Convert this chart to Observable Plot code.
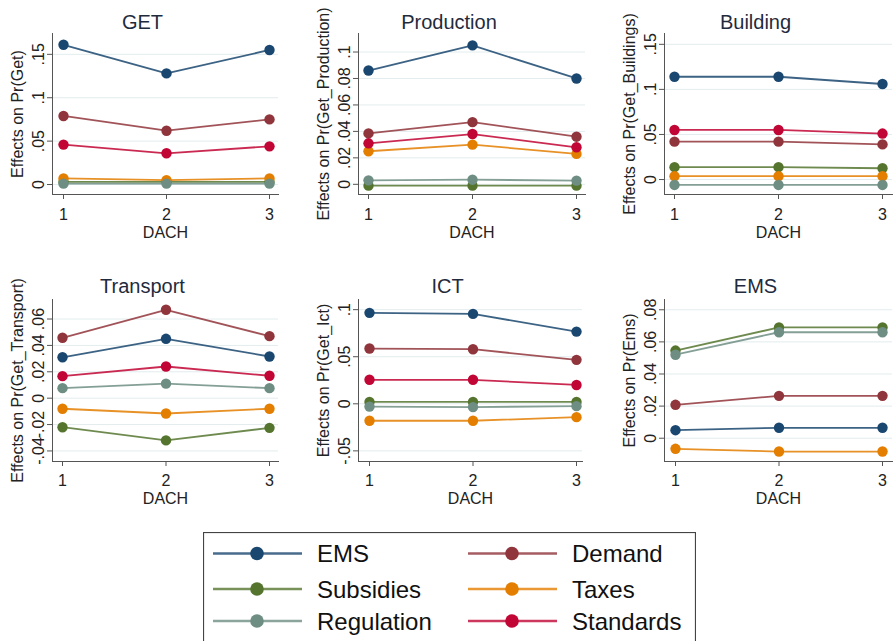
<!DOCTYPE html>
<html><head><meta charset="utf-8">
<script src="https://cdn.jsdelivr.net/npm/d3@7"></script>
<script src="https://cdn.jsdelivr.net/npm/@observablehq/plot@0.6"></script>
<style>
body{margin:0;background:#fff;}
#chart{position:relative;width:893px;height:641px;overflow:hidden;background:#fff;font-family:"Liberation Sans",Arial,sans-serif;}
.panel{position:absolute;}
#legend{position:absolute;left:203px;top:532px;}
</style></head><body><div id="chart"></div>
<script>
// ---------- data ----------
const dach = [1, 2, 3];
const seriesNames = ["EMS", "Demand", "Subsidies", "Taxes", "Regulation", "Standards"];
const panelTitles = ["GET", "Production", "Building", "Transport", "ICT", "EMS"];
const yLabels = ["Effects on Pr(Get)", "Effects on Pr(Get_Production)", "Effects on Pr(Get_Buildings)",
                 "Effects on Pr(Get_Transport)", "Effects on Pr(Get_Ict)", "Effects on Pr(Ems)"];
// rows follow seriesNames order: EMS, Demand, Subsidies, Taxes, Regulation, Standards
const getValues = [[0.161, 0.128, 0.155], [0.079, 0.062, 0.075], [0.003, 0.003, 0.003],
                   [0.007, 0.005, 0.007], [0.001, 0.001, 0.001], [0.046, 0.036, 0.044]];
const productionValues = [[0.086, 0.105, 0.080], [0.0385, 0.047, 0.036], [-0.001, -0.001, -0.001],
                          [0.025, 0.030, 0.023], [0.003, 0.0035, 0.0028], [0.031, 0.038, 0.028]];
const buildingValues = [[0.114, 0.114, 0.106], [0.042, 0.042, 0.039], [0.0137, 0.0137, 0.0125],
                        [0.0037, 0.0037, 0.0037], [-0.006, -0.006, -0.006], [0.055, 0.055, 0.051]];
const transportValues = [[0.031, 0.045, 0.0316], [0.0458, 0.067, 0.047], [-0.022, -0.032, -0.0225],
                         [-0.008, -0.0116, -0.008], [0.0076, 0.011, 0.0076], [0.0167, 0.024, 0.017]];
const ictValues = [[0.0966, 0.0955, 0.0767], [0.0587, 0.058, 0.0467], [0.002, 0.002, 0.002],
                   [-0.018, -0.018, -0.0142], [-0.003, -0.0035, -0.0025], [0.0255, 0.0255, 0.020]];
const emsValues = [[0.005, 0.0065, 0.0065], [0.0208, 0.0264, 0.0264], [0.0546, 0.069, 0.069],
                   [-0.0066, -0.0083, -0.0083], [0.052, 0.066, 0.066], [null, null, null]];
const yTickValues = [[0, 0.05, 0.1, 0.15], [0, 0.02, 0.04, 0.06, 0.08, 0.1], [0, 0.05, 0.1, 0.15],
                     [-0.04, -0.02, 0, 0.02, 0.04, 0.06], [-0.05, 0, 0.05, 0.1], [0, 0.02, 0.04, 0.06, 0.08]];
const yTickLabels = [["0", ".05", ".1", ".15"], ["0", ".02", ".04", ".06", ".08", ".1"], ["0", ".05", ".1", ".15"],
                     ["-.04", "-.02", "0", ".02", ".04", ".06"], ["-.05", "0", ".05", ".1"], ["0", ".02", ".04", ".06", ".08"]];
const yDomains = [[-0.0115, 0.174], [-0.0077, 0.114], [-0.0166, 0.162],
                  [-0.048, 0.0748], [-0.0613, 0.1108], [-0.0145, 0.0864]];
const xLabel = "DACH";

// ---------- styles / layout ----------
const seriesColors = ["#1a476f", "#90353b", "#55752f", "#e37e00", "#6e8e84", "#c10534"];
const axisColor = "#555";
const gridColor = "#e3ecee";
const textColor = "#222";
const titleColor = "#1f2b3d";
const fontFamily = '"Liberation Sans", Arial, sans-serif';
const layout = [
  {left: 0,   top: 0,   width: 295, height: 255, ml: 52, mr: 17, mt: 33, mb: 61, xr: [63, 269], tdy: -5, tp: 9, ldy: 32},
  {left: 295, top: 0,   width: 295, height: 255, ml: 63, mr: 5,  mt: 33, mb: 61, xr: [73, 281], tdy: -5, tp: 9, ldy: 32},
  {left: 590, top: 0,   width: 303, height: 255, ml: 74, mr: 1,  mt: 33, mb: 61, xr: [84, 292], tdy: -5, tp: 9, ldy: 32},
  {left: 0,   top: 260, width: 295, height: 250, ml: 52, mr: 17, mt: 39, mb: 49, xr: [62, 269], tdy: -7, tp: 8, ldy: 31},
  {left: 295, top: 260, width: 295, height: 250, ml: 63, mr: 8,  mt: 39, mb: 49, xr: [74, 281], tdy: -7, tp: 8, ldy: 31},
  {left: 590, top: 260, width: 303, height: 250, ml: 74, mr: 1,  mt: 39, mb: 49, xr: [85, 292], tdy: -7, tp: 8, ldy: 31}
];
const allValues = [getValues, productionValues, buildingValues, transportValues, ictValues, emsValues];

const chart = document.getElementById("chart");

allValues.forEach((values, p) => {
  const L = layout[p];
  const ticks = yTickValues[p];
  const labels = yTickLabels[p];
  const marks = [
    Plot.gridY(ticks, {stroke: gridColor, strokeOpacity: 1, strokeWidth: 1}),
    Plot.frame({anchor: "left", stroke: axisColor}),
    Plot.frame({anchor: "bottom", stroke: axisColor}),
    Plot.axisY(ticks, {tickFormat: d => labels[ticks.indexOf(d)], tickRotate: -90, tickSize: 5, tickPadding: 4,
                       fontSize: 16, stroke: axisColor, fill: textColor, label: null}),
    Plot.axisX(dach, {tickFormat: d => String(d), tickSize: 5, tickPadding: L.tp, fontSize: 16,
                      stroke: axisColor, fill: textColor, label: null})
  ];
  values.forEach((vals, si) => {
    const rows = [];
    vals.forEach((v, i) => { if (v != null) rows.push({dach: dach[i], value: v}); });
    if (!rows.length) return;
    marks.push(Plot.line(rows, {x: "dach", y: "value", stroke: seriesColors[si], strokeWidth: 1.8, strokeOpacity: 0.85}));
    marks.push(Plot.dot(rows, {x: "dach", y: "value", fill: seriesColors[si], r: 5.2, stroke: "none"}));
  });
  marks.push(Plot.text([panelTitles[p]], {text: d => d, frameAnchor: "top", textAnchor: "middle", dx: -23, dy: L.tdy,
                                          lineAnchor: "bottom", fontSize: 20, fill: titleColor}));
  marks.push(Plot.text([yLabels[p]], {text: d => d, frameAnchor: "left", textAnchor: "middle", rotate: -90, dx: -35,
                                      lineAnchor: "middle", fontSize: 16, fill: textColor}));
  marks.push(Plot.text([xLabel], {text: d => d, frameAnchor: "bottom", textAnchor: "middle", dy: L.ldy, lineAnchor: "top",
                                  fontSize: 16, fill: textColor}));
  const svg = Plot.plot({
    width: L.width, height: L.height,
    marginLeft: L.ml, marginRight: L.mr, marginTop: L.mt, marginBottom: L.mb,
    x: {domain: [1, 3], range: L.xr},
    y: {domain: yDomains[p]},
    style: {fontFamily, background: "transparent", overflow: "visible"},
    marks
  });
  svg.classList.add("panel");
  svg.style.left = L.left + "px";
  svg.style.top = L.top + "px";
  chart.appendChild(svg);
});

// ---------- legend ----------
const legendOrder = [0, 1, 2, 3, 4, 5];
const legendRowsY = [21.5, 57, 89];
const legendCols = [{x1: 10, x2: 99, mx: 54, tx: 114}, {x1: 265, x2: 354, mx: 309, tx: 369}];
const lg = d3.create("svg").attr("id", "legend").attr("width", 493).attr("height", 130)
  .style("font-family", fontFamily);
lg.append("rect").attr("x", 0.5).attr("y", 0.5).attr("width", 492).attr("height", 200)
  .attr("fill", "#fff").attr("stroke", "#444").attr("stroke-width", 1.2);
legendOrder.forEach((si, k) => {
  const c = legendCols[k % 2], y = legendRowsY[Math.floor(k / 2)];
  lg.append("line").attr("x1", c.x1).attr("x2", c.x2).attr("y1", y).attr("y2", y)
    .attr("stroke", seriesColors[si]).attr("stroke-width", 2.4).attr("stroke-opacity", 0.8);
  lg.append("circle").attr("cx", c.mx).attr("cy", y).attr("r", 6.8).attr("fill", seriesColors[si]);
  lg.append("text").attr("x", c.tx).attr("y", y).attr("dy", "0.36em").attr("font-size", 24)
    .attr("fill", "#111").text(seriesNames[si]);
});
chart.appendChild(lg.node());
</script></body></html>
